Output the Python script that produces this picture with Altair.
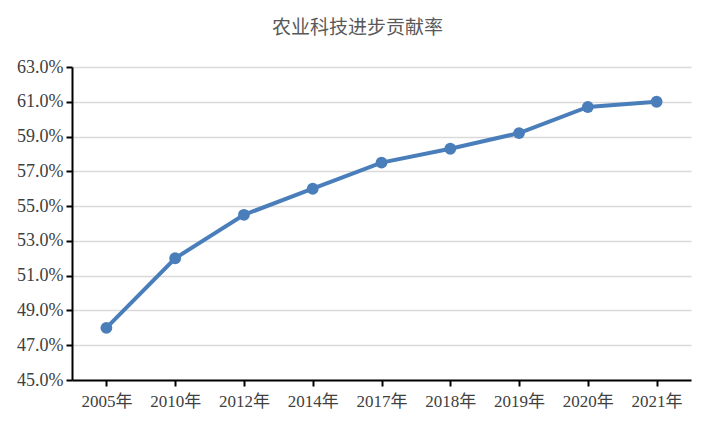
import altair as alt
import pandas as pd

years = ["2005年", "2010年", "2012年", "2014年", "2017年", "2018年", "2019年", "2020年", "2021年"]
rates = [0.480, 0.520, 0.545, 0.560, 0.575, 0.583, 0.592, 0.607, 0.610]
y_ticks = [0.45, 0.47, 0.49, 0.51, 0.53, 0.55, 0.57, 0.59, 0.61, 0.63]

df = pd.DataFrame({"year": years, "rate": rates})

FONT = "'Liberation Serif', 'Noto Sans CJK SC'"

x = alt.X("year:N", sort=years, title=None,
          scale=alt.Scale(type="point", padding=0.5),
          axis=alt.Axis(labelAngle=0, labelFont=FONT, labelFontSize=17, labelColor="#404040",
                        labelPadding=7, domainColor="#000000", domainWidth=2,
                        tickColor="#000000", tickWidth=2, tickSize=6, grid=False))
y = alt.Y("rate:Q", title=None,
          scale=alt.Scale(domain=[0.45, 0.63], nice=False, zero=False),
          axis=alt.Axis(values=y_ticks, format=".1%", labelFont=FONT, labelFontSize=18,
                        labelColor="#404040", labelPadding=3, domainColor="#000000",
                        domainWidth=2, tickColor="#000000", tickWidth=2, tickSize=6,
                        grid=True, gridColor="#d9d9d9", gridWidth=1.5))

line = alt.Chart(df).mark_line(color="#4a7ebb", strokeWidth=4).encode(x=x, y=y)
pts = alt.Chart(df).mark_point(filled=True, color="#4a7ebb", size=140, opacity=1).encode(x=x, y=y)

chart = (line + pts).properties(
    width=619, height=313,
    autosize=alt.AutoSizeParams(type="none"),
    padding={"left": 64, "top": 59, "right": 15, "bottom": 41},
    title=alt.TitleParams("农业科技进步贡献率", font="Noto Sans CJK SC", fontSize=19,
                          fontWeight="normal", color="#595959", anchor="middle",
                          dx=-24, offset=20),
    background="white",
).configure_view(stroke=None)

chart.save("out.html", embed_options={"renderer": "svg", "actions": False})
